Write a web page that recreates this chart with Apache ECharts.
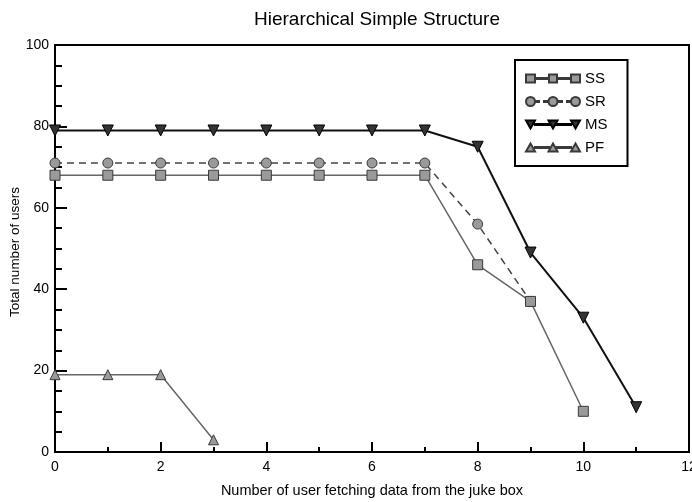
<!DOCTYPE html>
<html>
<head>
<meta charset="utf-8">
<script src="https://cdn.jsdelivr.net/npm/echarts@6/dist/echarts.min.js"></script>
<style>
  html, body { margin: 0; padding: 0; background: #fff; }
  #chart { width: 692px; height: 502px; }
</style>
</head>
<body>
<div id="chart"></div>
<script>
// values
var xSS = [0, 1, 2, 3, 4, 5, 6, 7, 8, 9, 10];
var ySS = [68, 68, 68, 68, 68, 68, 68, 68, 46, 37, 10];
var xSR = [0, 1, 2, 3, 4, 5, 6, 7, 8, 9];
var ySR = [71, 71, 71, 71, 71, 71, 71, 71, 56, 37];
var xMS = [0, 1, 2, 3, 4, 5, 6, 7, 8, 9, 10, 11];
var yMS = [79, 79, 79, 79, 79, 79, 79, 79, 75, 49, 33, 11];
var xPF = [0, 1, 2, 3];
var yPF = [19, 19, 19, 3];
var names = ['SS', 'SR', 'MS', 'PF'];

function pairs(xs, ys) {
  return xs.map(function (x, i) { return [x, ys[i]]; });
}

// legend samples: three markers joined by a thin line
var link = 'M9 6.6h14v0.8h-14zM31 6.6h14v0.8h-14z';
var icons = {
  SS: 'path://M0 3h9v8h-9zM23 3h8v8h-8zM45 3h9v8h-9z' + link,
  SR: 'path://M0 7a4.5 4.5 0 1 0 9 0a4.5 4.5 0 1 0 -9 0zM22.5 7a4.5 4.5 0 1 0 9 0a4.5 4.5 0 1 0 -9 0zM45 7a4.5 4.5 0 1 0 9 0a4.5 4.5 0 1 0 -9 0zM9 6.6h4v0.8h-4zM18 6.6h4v0.8h-4zM32 6.6h4v0.8h-4zM41 6.6h4v0.8h-4z',
  MS: 'path://M0 3h9l-4.5 8zM22.5 3h9l-4.5 8zM45 3h9l-4.5 8z' + link,
  PF: 'path://M0 11h9l-4.5 -8zM22.5 11h9l-4.5 -8zM45 11h9l-4.5 -8z' + link
};

var font = 'Liberation Sans, Arial, sans-serif';
var myChart = echarts.init(document.getElementById('chart'));

var markerStyle = { color: '#9a9a9a', borderColor: '#3a3a3a', borderWidth: 1 };

var option = {
  animation: false,
  backgroundColor: '#fff',
  title: {
    text: 'Hierarchical Simple Structure',
    left: 372, top: 5, textAlign: 'center',
    textStyle: { fontFamily: font, fontSize: 19, fontWeight: 'normal', color: '#000' }
  },
  // y axis title, placed by hand
  graphic: [{
    type: 'text', x: 15, y: 252, rotation: Math.PI / 2,
    style: {
      text: 'Total number of users', fill: '#000',
      font: '13.5px ' + font, align: 'center', verticalAlign: 'middle'
    }
  }],
  grid: {
    left: 55, right: 3, top: 45, bottom: 50,
    outerBoundsMode: 'none',
    show: true, borderColor: '#000', borderWidth: 2
  },
  legend: {
    orient: 'vertical',
    left: 515, top: 60,
    padding: [11, 20, 11, 10],
    itemWidth: 54, itemHeight: 14, itemGap: 8,
    backgroundColor: '#fff',
    borderColor: '#000', borderWidth: 2,
    textStyle: { fontFamily: font, fontSize: 15, color: '#000', lineHeight: 14 },
    data: names.map(function (n) { return { name: n, icon: icons[n] }; })
  },
  xAxis: {
    type: 'value', min: 0, max: 12, interval: 2,
    name: 'Number of user fetching data from the juke box',
    nameLocation: 'middle', nameGap: 31,
    nameTextStyle: { fontFamily: font, fontSize: 14.5, color: '#000' },
    axisLine: { onZero: false, lineStyle: { color: '#000', width: 2 } },
    axisTick: { inside: true, length: 10, lineStyle: { color: '#000', width: 2 } },
    minorTick: { show: true, splitNumber: 2, length: 5, lineStyle: { color: '#000', width: 2 } },
    axisLabel: { fontFamily: font, fontSize: 14, color: '#000', margin: 8 },
    splitLine: { show: false }
  },
  yAxis: {
    type: 'value', min: 0, max: 100, interval: 20,
    axisLine: { onZero: false, lineStyle: { color: '#000', width: 2 } },
    axisTick: { inside: true, length: 12, lineStyle: { color: '#000', width: 2 } },
    minorTick: { show: true, splitNumber: 4, length: 7, lineStyle: { color: '#000', width: 2 } },
    axisLabel: { fontFamily: font, fontSize: 14, color: '#000', margin: 6 },
    splitLine: { show: false }
  },
  series: [
    {
      name: 'SS', type: 'line', data: pairs(xSS, ySS),
      symbol: 'rect', symbolSize: 10,
      lineStyle: { color: '#666', width: 1.5 },
      itemStyle: markerStyle, z: 3
    },
    {
      name: 'SR', type: 'line', data: pairs(xSR, ySR),
      symbol: 'circle', symbolSize: 10,
      lineStyle: { color: '#444', width: 1.5, type: [7, 5] },
      itemStyle: markerStyle, z: 2
    },
    {
      name: 'MS', type: 'line', data: pairs(xMS, yMS),
      symbol: 'triangle', symbolRotate: 180, symbolSize: 11,
      lineStyle: { color: '#111', width: 2 },
      itemStyle: { color: '#333', borderColor: '#000', borderWidth: 1 }, z: 4
    },
    {
      name: 'PF', type: 'line', data: pairs(xPF, yPF),
      symbol: 'triangle', symbolSize: 10,
      lineStyle: { color: '#666', width: 1.5 },
      itemStyle: markerStyle, z: 3
    }
  ]
};

myChart.setOption(option);
</script>
</body>
</html>
